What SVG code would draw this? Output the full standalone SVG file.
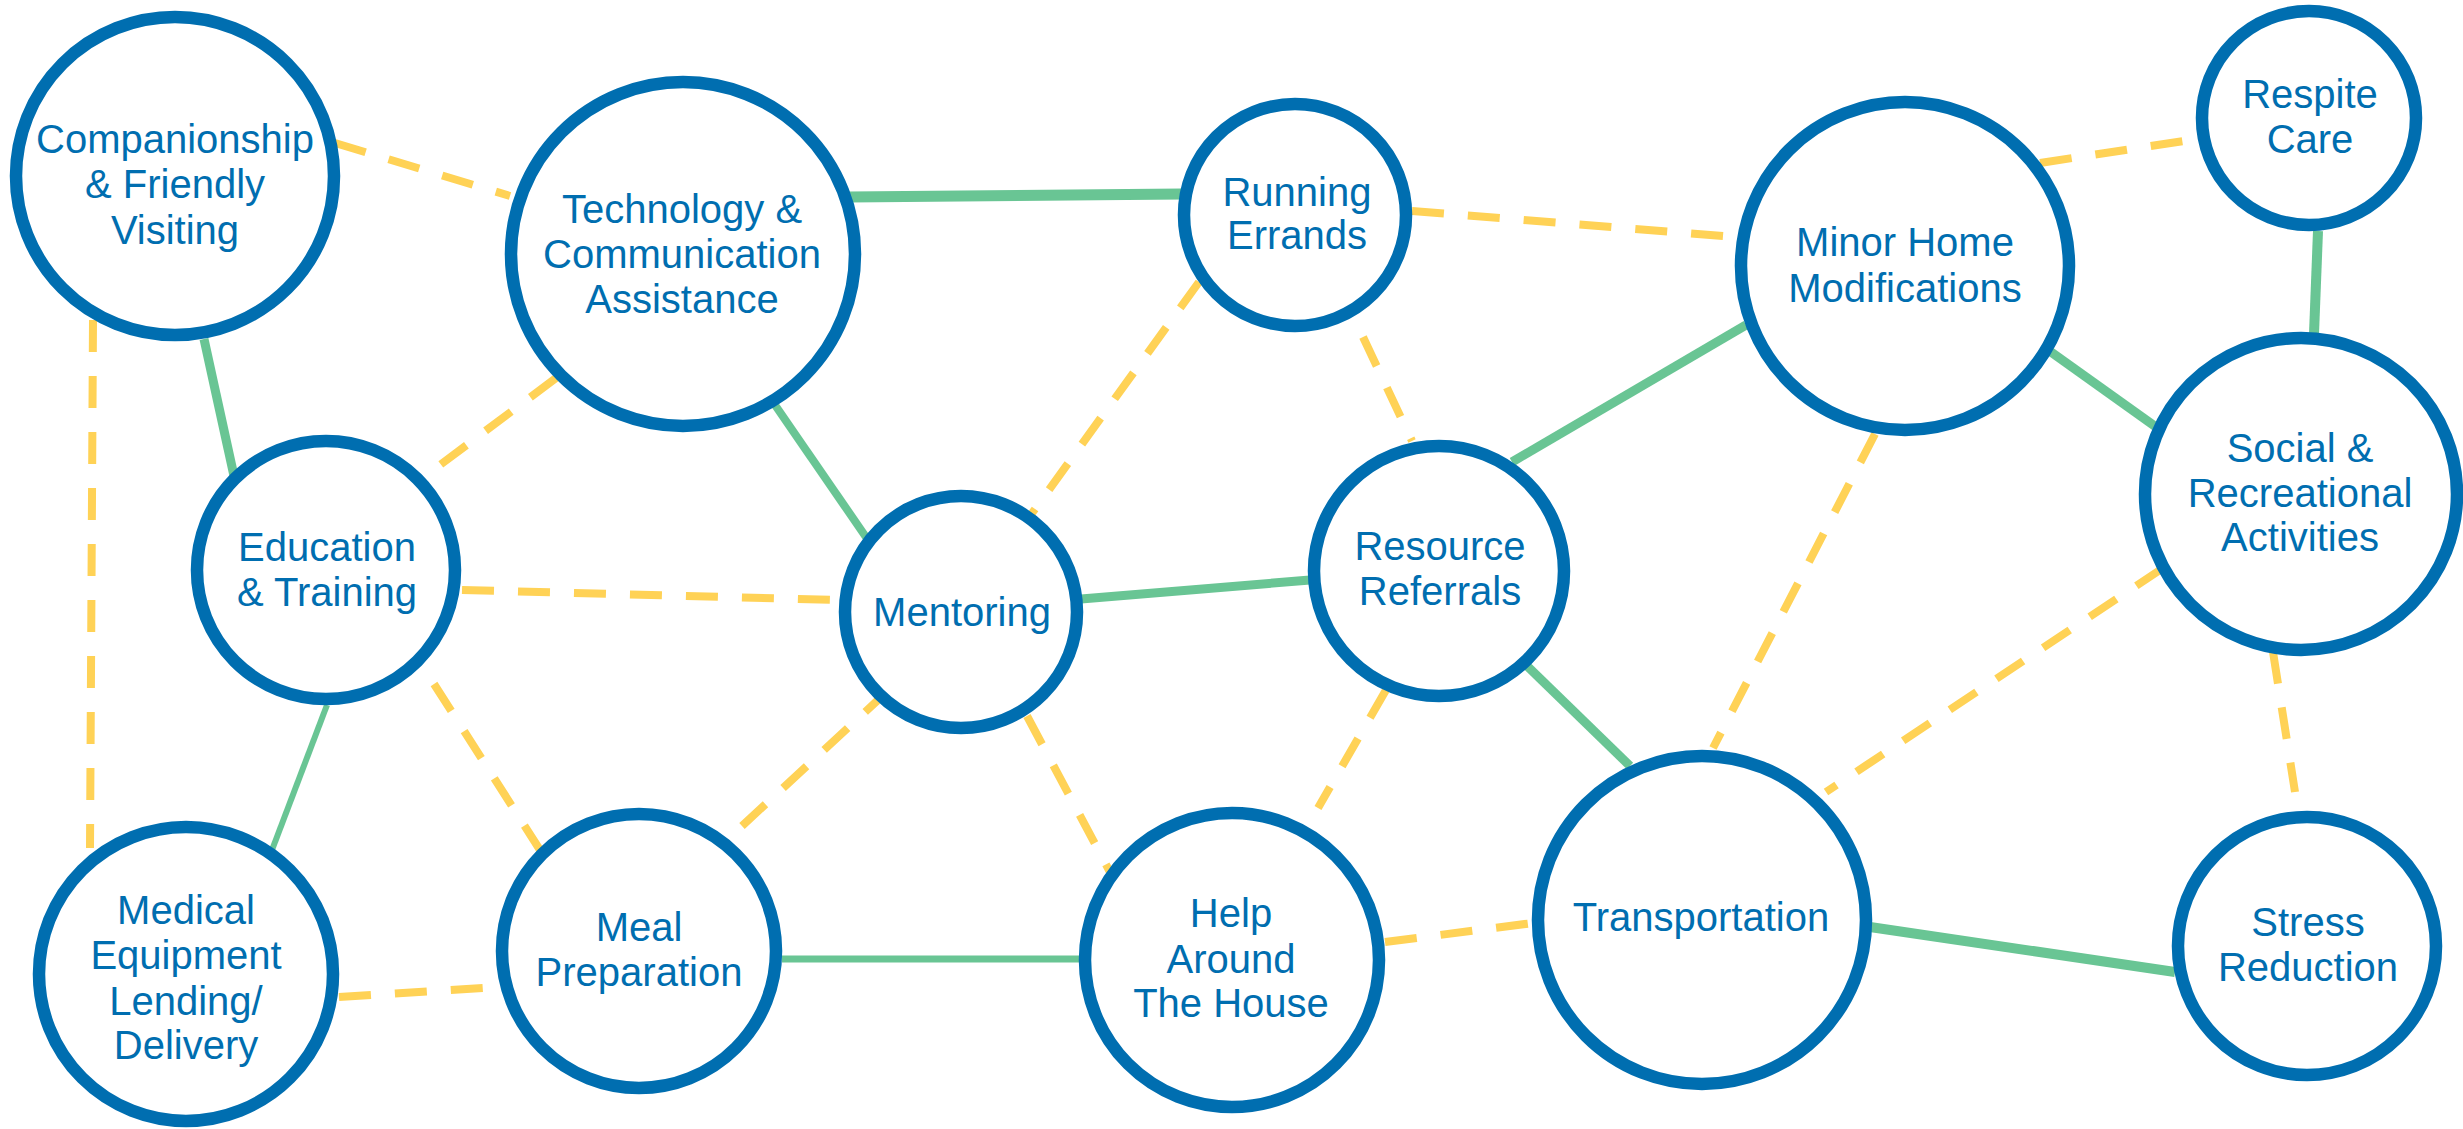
<svg xmlns="http://www.w3.org/2000/svg" width="2463" height="1129" viewBox="0 0 2463 1129">
<style>
.node circle{fill:#ffffff;stroke:#006EB0;stroke-width:12.5}
.node text{font-family:"Liberation Sans",Arial,sans-serif;font-size:40px;fill:#006EB0;text-anchor:middle}
.solid{stroke:#69C594;fill:none;stroke-linecap:butt}
.dash{stroke:#FFD256;stroke-width:8;fill:none;stroke-dasharray:32 24}
</style>
<rect width="2463" height="1129" fill="#ffffff"/>
<g id="connectors">
<line class="dash" x1="335" y1="143" x2="510" y2="196"/>
<line class="dash" x1="93" y1="320" x2="90" y2="848"/>
<line class="solid" stroke-width="9" x1="204" y1="339" x2="234" y2="476"/>
<line class="dash" x1="556" y1="378" x2="440" y2="465"/>
<line class="solid" stroke-width="11" x1="849" y1="197" x2="1182" y2="194"/>
<line class="solid" stroke-width="8" x1="775" y1="405" x2="868" y2="540"/>
<line class="dash" x1="1199" y1="282" x2="1030" y2="516"/>
<line class="dash" x1="1363" y1="337" x2="1412" y2="441"/>
<line class="dash" x1="1412" y1="211" x2="1735" y2="237"/>
<line class="dash" x1="2040" y1="163" x2="2197" y2="139"/>
<line class="solid" stroke-width="10" x1="2318" y1="231" x2="2314" y2="334"/>
<line class="solid" stroke-width="9" x1="2051" y1="352" x2="2156" y2="427"/>
<line class="solid" stroke-width="9" x1="1746" y1="325" x2="1512" y2="462"/>
<line class="dash" x1="1875" y1="434" x2="1713" y2="748"/>
<line class="dash" x1="2163" y1="568" x2="1826" y2="792"/>
<line class="dash" x1="2273" y1="652" x2="2295" y2="792"/>
<line class="solid" stroke-width="10" x1="1870" y1="927" x2="2175" y2="972"/>
<line class="solid" stroke-width="9" x1="1524" y1="663" x2="1630" y2="766"/>
<line class="solid" stroke-width="9" x1="1081" y1="599" x2="1310" y2="580"/>
<line class="dash" x1="462" y1="590" x2="840" y2="600"/>
<line class="dash" x1="434" y1="684" x2="540" y2="850"/>
<line class="solid" stroke-width="6" x1="327" y1="705" x2="272" y2="850"/>
<line class="dash" x1="339" y1="997" x2="497" y2="987"/>
<line class="dash" x1="742" y1="826" x2="878" y2="700"/>
<line class="solid" stroke-width="7" x1="782" y1="959" x2="1081" y2="959"/>
<line class="dash" x1="1027" y1="716" x2="1110" y2="872"/>
<line class="dash" x1="1386" y1="690" x2="1318" y2="808"/>
<line class="dash" x1="1385" y1="942" x2="1533" y2="923"/>
</g>
<g id="companionship" class="node"><circle cx="175" cy="176" r="159"/><text x="175" y="153">Companionship</text><text x="175" y="198">&amp; Friendly</text><text x="175" y="244">Visiting</text></g>
<g id="technology" class="node"><circle cx="683" cy="254" r="172"/><text x="682" y="223">Technology &amp;</text><text x="682" y="268">Communication</text><text x="682" y="313">Assistance</text></g>
<g id="running-errands" class="node"><circle cx="1295" cy="215" r="111"/><text x="1297" y="206">Running</text><text x="1297" y="249">Errands</text></g>
<g id="minor-home" class="node"><circle cx="1905" cy="266" r="164"/><text x="1905" y="256">Minor Home</text><text x="1905" y="302">Modifications</text></g>
<g id="respite-care" class="node"><circle cx="2309" cy="118" r="107"/><text x="2310" y="108">Respite</text><text x="2310" y="153">Care</text></g>
<g id="social" class="node"><circle cx="2301" cy="494" r="156"/><text x="2300" y="462">Social &amp;</text><text x="2300" y="507">Recreational</text><text x="2300" y="551">Activities</text></g>
<g id="education" class="node"><circle cx="326" cy="570" r="129"/><text x="327" y="561">Education</text><text x="327" y="606">&amp; Training</text></g>
<g id="medical" class="node"><circle cx="186" cy="974" r="147"/><text x="186" y="924">Medical</text><text x="186" y="969">Equipment</text><text x="186" y="1015">Lending/</text><text x="186" y="1059">Delivery</text></g>
<g id="meal" class="node"><circle cx="639" cy="951" r="137"/><text x="639" y="941">Meal</text><text x="639" y="986">Preparation</text></g>
<g id="mentoring" class="node"><circle cx="961" cy="612" r="116"/><text x="962" y="626">Mentoring</text></g>
<g id="resource" class="node"><circle cx="1439" cy="571" r="125"/><text x="1440" y="560">Resource</text><text x="1440" y="605">Referrals</text></g>
<g id="help" class="node"><circle cx="1232" cy="960" r="147"/><text x="1231" y="927">Help</text><text x="1231" y="973">Around</text><text x="1231" y="1017">The House</text></g>
<g id="transportation" class="node"><circle cx="1702" cy="920" r="164"/><text x="1701" y="931">Transportation</text></g>
<g id="stress" class="node"><circle cx="2307" cy="946" r="129"/><text x="2308" y="936">Stress</text><text x="2308" y="981">Reduction</text></g>
</svg>
